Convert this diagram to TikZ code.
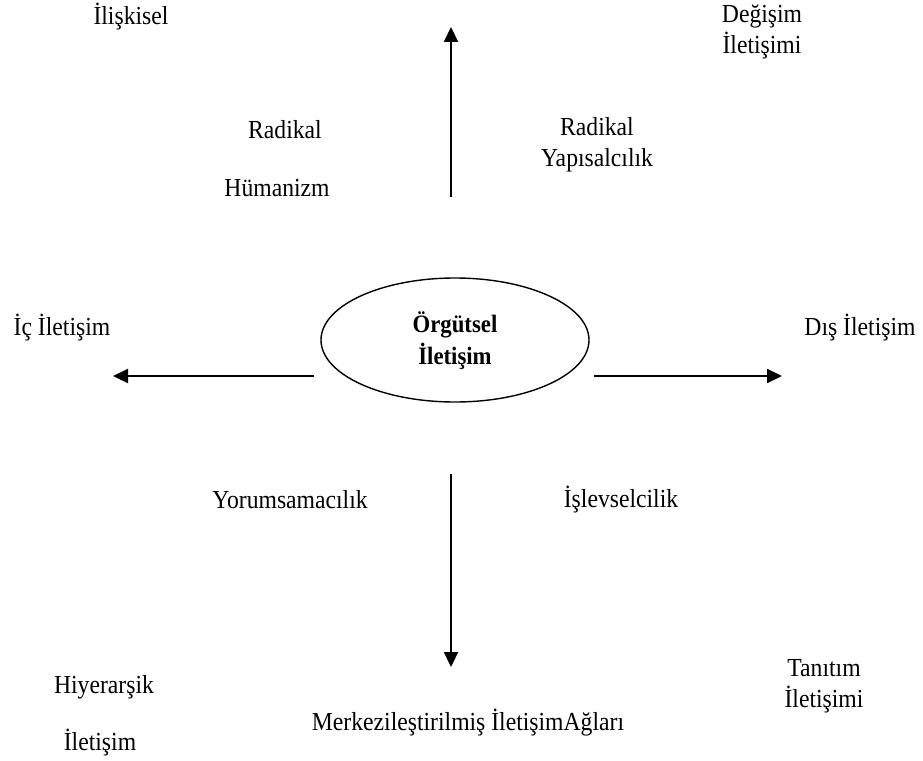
\documentclass[tikz,border=0pt]{standalone}
\usepackage{fontspec}
\setmainfont{Liberation Serif}[FakeStretch=0.91]
\usetikzlibrary{arrows.meta,shapes.geometric}
\begin{document}
\begin{tikzpicture}[x=1pt,y=-1pt,
  lbl/.style={inner sep=0pt,align=center,font=\fontsize{26}{31}\selectfont},
  arr/.style={line width=2.2pt,-{Triangle[length=15pt,width=14pt]}}]
\useasboundingbox (0,0) rectangle (923,760);
% centre
\node[draw,ellipse,line width=1.4pt,minimum width=268pt,minimum height=124pt,inner sep=0pt] (c) at (455,340) {};
\node[lbl,font=\fontsize{25}{32}\selectfont\bfseries] (ct) at (455,341) {Örgütsel\\İletişim};
% arrow anchors
\coordinate (us) at (451,197);
\coordinate (ue) at (451,27);
\coordinate (ls) at (314,376);
\coordinate (le) at (113,376);
\coordinate (rs) at (594,376);
\coordinate (re) at (782,376);
\coordinate (ds) at (451,474);
\coordinate (de) at (451,667);
\draw[arr] (us) -- (ue);
\draw[arr] (ls) -- (le);
\draw[arr] (rs) -- (re);
\draw[arr] (ds) -- (de);
% labels
\node[lbl] (ilis) at (131,17) {İlişkisel};
\node[lbl] (degis) at (762,32) {Değişim\\İletişimi};
\node[lbl] (radl) at (285,130) {Radikal};
\node[lbl] (hum) at (277,188) {Hümanizm};
\node[lbl] (radr) at (597,145) {Radikal\\Yapısalcılık};
\node[lbl] (ic) at (62,328) {İç İletişim};
\node[lbl] (dis) at (860,328) {Dış İletişim};
\node[lbl] (yor) at (290,500) {Yorumsamacılık};
\node[lbl] (isl) at (621,500) {İşlevselcilik};
\node[lbl] (hiy) at (104,687) {Hiyerarşik};
\node[lbl] (ilt) at (100,743) {İletişim};
\node[lbl] (merk) at (468,723) {Merkezileştirilmiş İletişimAğları};
\node[lbl] (tan) at (824,686) {Tanıtım\\İletişimi};
\end{tikzpicture}
\end{document}
